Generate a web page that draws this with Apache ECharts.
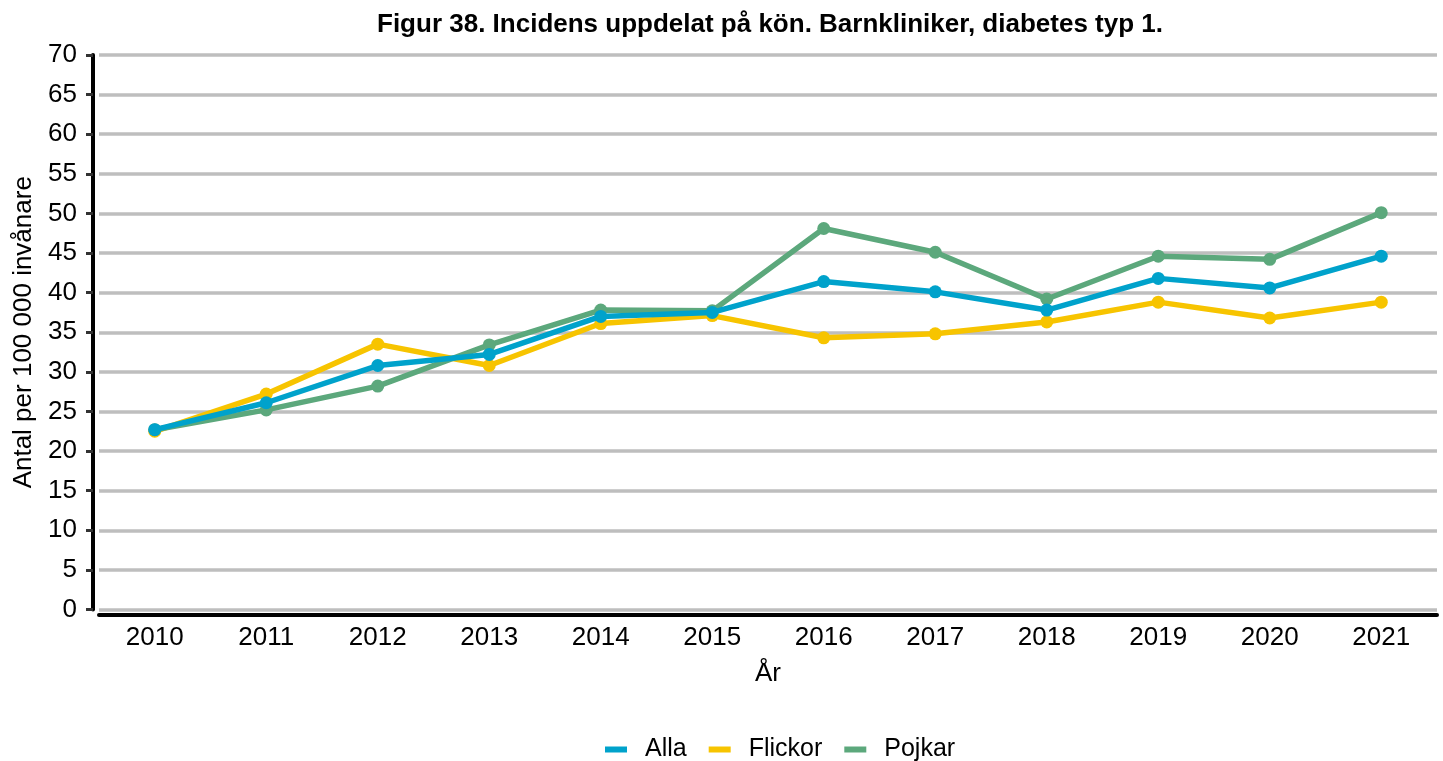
<!DOCTYPE html>
<html lang="sv">
<head>
    <meta charset="UTF-8">
    <title>Figur 38</title>
    <script src="https://cdn.jsdelivr.net/npm/echarts@6/dist/echarts.min.js"></script>
    <style>
        html, body { margin: 0; padding: 0; background: #fff; }
        #main { width: 1443px; height: 761px; }
    </style>
</head>
<body>
<div id="main"></div>
<script type="text/javascript">
    // data
    var years = ['2010', '2011', '2012', '2013', '2014', '2015', '2016', '2017', '2018', '2019', '2020', '2021'];
    var alla = [22.7, 26.1, 30.8, 32.2, 37.0, 37.5, 41.4, 40.1, 37.8, 41.8, 40.6, 44.6];
    var flickor = [22.5, 27.2, 33.5, 30.8, 36.1, 37.1, 34.3, 34.8, 36.3, 38.8, 36.8, 38.8];
    var pojkar = [22.7, 25.2, 28.2, 33.4, 37.8, 37.7, 48.1, 45.1, 39.2, 44.6, 44.2, 50.1];

    var font = 'Liberation Sans, Arial, Helvetica, sans-serif';
    var chart = echarts.init(document.getElementById('main'));

    function line(name, data, color, z) {
        return {
            name: name,
            type: 'line',
            data: data,
            z: z,
            symbol: 'circle',
            symbolSize: 13,
            lineStyle: { width: 5.5, color: color },
            itemStyle: { color: color },
            animation: false
        };
    }

    var option = {
        title: {
            text: 'Figur 38. Incidens uppdelat på kön. Barnkliniker, diabetes typ 1.',
            left: 765,
            textAlign: 'center',
            top: 7,
            textStyle: { fontFamily: font, fontWeight: 'bold', fontSize: 26, color: '#000' }
        },
        legend: {
            data: ['Alla', 'Flickor', 'Pojkar'],
            left: 600,
            top: 732,
            itemWidth: 22,
            itemHeight: 6,
            itemGap: 22,
            icon: 'rect',
            textStyle: { fontFamily: font, fontSize: 25, color: '#000', padding: [0, 0, 0, 13] }
        },
        grid: { left: 99, right: 6, top: 55, bottom: 151.5, containLabel: false },
        xAxis: {
            type: 'category',
            data: years,
            offset: 5.5,
            name: 'År',
            nameLocation: 'middle',
            nameGap: 46,
            nameTextStyle: { fontFamily: font, fontSize: 26, color: '#000' },
            axisLine: { onZero: false, lineStyle: { color: '#000', width: 4 } },
            axisTick: { alignWithLabel: true, length: 6, lineStyle: { color: '#333', width: 3 } },
            axisLabel: { fontFamily: font, fontSize: 26, color: '#000', margin: 10 }
        },
        yAxis: {
            type: 'value',
            min: 0,
            max: 70,
            interval: 5,
            offset: 6,
            name: 'Antal per 100 000 invånare',
            nameLocation: 'middle',
            nameGap: 44,
            nameTextStyle: { fontFamily: font, fontSize: 26, color: '#000' },
            axisLine: { show: true, lineStyle: { color: '#000', width: 4 } },
            axisTick: { show: true, length: 7, lineStyle: { color: '#333', width: 3 } },
            axisLabel: { fontFamily: font, fontSize: 26, color: '#000', margin: 16 },
            splitLine: { lineStyle: { color: '#bebebe', width: 3.5 } }
        },
        series: [
            line('Flickor', flickor, '#F7C400', 2),
            line('Pojkar', pojkar, '#5CA87C', 3),
            line('Alla', alla, '#00A2CB', 4)
        ]
    };

    chart.setOption(option);
</script>
</body>
</html>
